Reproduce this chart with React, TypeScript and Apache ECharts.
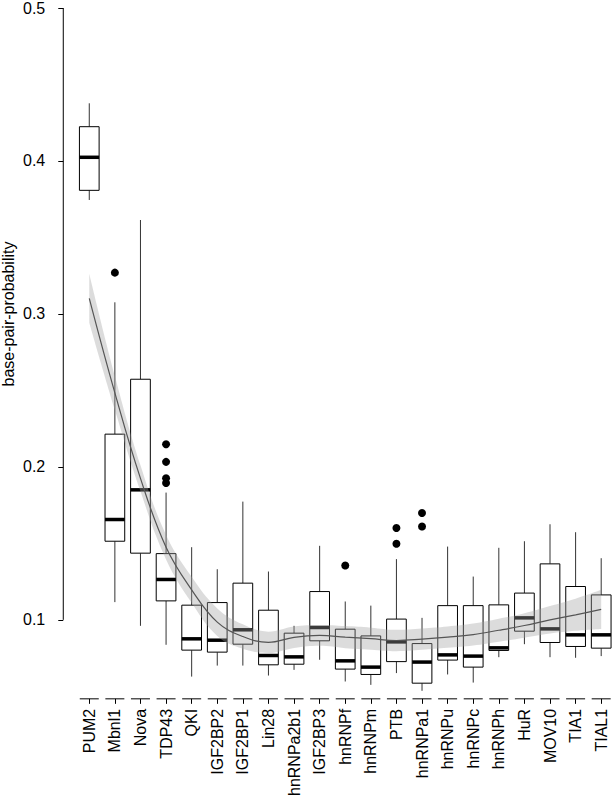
import React, { useEffect, useRef } from "react";
import * as echarts from "echarts";

const categories = ["PUM2", "Mbnl1", "Nova", "TDP43", "QKI", "IGF2BP2", "IGF2BP1", "Lin28", "hnRNPa2b1", "IGF2BP3", "hnRNPf", "hnRNPm", "PTB", "hnRNPa1", "hnRNPu", "hnRNPc", "hnRNPh", "HuR", "MOV10", "TIA1", "TIAL1"];

const whiskerHigh = [0.4377, 0.3076, 0.3614, 0.1832, 0.1475, 0.1331, 0.1773, 0.1316, 0.0961, 0.1484, 0.112, 0.1093, 0.1397, 0.1013, 0.1479, 0.1283, 0.1471, 0.1514, 0.1625, 0.1573, 0.1403];
const q3 = [0.4224, 0.2214, 0.2573, 0.1433, 0.1096, 0.1113, 0.124, 0.1063, 0.0913, 0.1185, 0.0939, 0.0895, 0.1005, 0.0845, 0.1093, 0.1093, 0.1098, 0.1175, 0.1366, 0.1218, 0.1163];
const median = [0.4024, 0.1656, 0.185, 0.1264, 0.0876, 0.0867, 0.0935, 0.0767, 0.0758, 0.095, 0.0732, 0.0691, 0.0856, 0.0724, 0.0771, 0.0763, 0.0817, 0.1013, 0.0941, 0.0902, 0.0902];
const q1 = [0.3808, 0.1514, 0.1436, 0.1124, 0.0802, 0.0789, 0.0841, 0.0706, 0.071, 0.0863, 0.0678, 0.0643, 0.0727, 0.0586, 0.0737, 0.0691, 0.08, 0.0926, 0.0852, 0.0826, 0.0815];
const whiskerLow = [0.3745, 0.1116, 0.0961, 0.0837, 0.0629, 0.0701, 0.0701, 0.0636, 0.0673, 0.0739, 0.0597, 0.0575, 0.0652, 0.0536, 0.0643, 0.059, 0.0756, 0.0841, 0.0756, 0.0752, 0.0763];

// outliers: [category, value]
const outliers = [
  ["Mbnl1", 0.327],
  ["TDP43", 0.2148],
  ["TDP43", 0.2033],
  ["TDP43", 0.1926],
  ["TDP43", 0.1895],
  ["hnRNPf", 0.1355],
  ["PTB", 0.16],
  ["PTB", 0.1497],
  ["hnRNPa1", 0.1699],
  ["hnRNPa1", 0.161],
];

const loessFit = [0.3102, 0.2484, 0.1925, 0.1475, 0.1196, 0.0985, 0.0891, 0.0853, 0.0886, 0.0898, 0.0887, 0.0877, 0.0865, 0.0874, 0.0887, 0.0904, 0.0932, 0.0963, 0.1, 0.1033, 0.1068];
const loessUpper = [0.3262, 0.2594, 0.201, 0.1555, 0.1281, 0.1075, 0.0971, 0.0923, 0.0956, 0.0966, 0.0959, 0.0949, 0.0935, 0.0944, 0.0957, 0.0976, 0.1007, 0.1043, 0.109, 0.1138, 0.1196];
const loessLower = [0.2942, 0.2374, 0.184, 0.1395, 0.1111, 0.0895, 0.0811, 0.0783, 0.0816, 0.083, 0.0815, 0.0805, 0.0795, 0.0804, 0.0817, 0.0832, 0.0857, 0.0883, 0.091, 0.0928, 0.094];

const yTicks = [0.1, 0.2, 0.3, 0.4, 0.5];
const yMin = 0.04837;
const yMax = 0.5;
const yTitle = "base-pair-probability";

const FONT = "'Liberation Sans', Arial, Helvetica, sans-serif";

export default function App() {
  const ref = useRef<HTMLDivElement>(null);

  useEffect(() => {
    if (!ref.current) return;
    const chart = echarts.init(ref.current, undefined, { renderer: "svg" });
    const axisOffset = 13.2;
    const boxW = 19.7;

    const boxData = categories.map((c, i) => [i, whiskerLow[i], q1[i], median[i], q3[i], whiskerHigh[i]]);
    const outData = outliers.map(([c, v]) => [categories.indexOf(c as string), v]);
    const bandDiff = loessUpper.map((u, i) => +(u - loessLower[i]).toFixed(5));

    const option: any = {
      animation: false,
      textStyle: { fontFamily: FONT },
      grid: { left: 76.475, right: -1.1, top: 8, bottom: 100, containLabel: false },
      xAxis: {
        type: "category",
        data: categories,
        boundaryGap: true,
        axisLine: { show: false },
        axisTick: { show: true, alignWithLabel: true, length: 5, lineStyle: { color: "#000", width: 1 } },
        axisLabel: { rotate: 90, fontSize: 16, color: "#000", margin: 10, fontFamily: FONT, interval: 0 },
        splitLine: { show: false },
      },
      yAxis: {
        type: "value",
        min: yMin,
        max: yMax,
        offset: axisOffset,
        axisLine: { show: false },
        axisTick: { show: true, customValues: yTicks, length: 5, lineStyle: { color: "#000", width: 1 } },
        axisLabel: { show: true, customValues: yTicks, fontSize: 16, color: "#000", margin: 18, fontFamily: FONT, formatter: (v: number) => v.toFixed(1) },
        splitLine: { show: false },
      },
      graphic: [
        {
          type: "text",
          x: 8,
          y: 314,
          rotation: Math.PI / 2,
          style: { text: yTitle, fontSize: 16, fill: "#000", font: `16px ${FONT}`, align: "center", verticalAlign: "middle" },
        },
      ],
      series: [
        {
          type: "custom",
          name: "yaxisline",
          clip: false,
          silent: true,
          data: [[0, yTicks[0]]],
          renderItem: (params: any, api: any) => {
            const x = params.coordSys.x - axisOffset;
            const y1 = api.coord([0, yTicks[0]])[1];
            const y2 = api.coord([0, yTicks[yTicks.length - 1]])[1];
            return { type: "line", shape: { x1: x, y1, x2: x, y2 }, style: { stroke: "#000", lineWidth: 1 } };
          },
          z: 1,
        },
        {
          type: "custom",
          name: "xsegments",
          clip: false,
          silent: true,
          data: categories.map((c, i) => [i, yMin]),
          renderItem: (params: any, api: any) => {
            const cx = api.coord([api.value(0), yMin])[0];
            const y = params.coordSys.y + params.coordSys.height;
            return { type: "line", shape: { x1: cx - 9.5, y1: y, x2: cx + 9.5, y2: y }, style: { stroke: "#000", lineWidth: 1 } };
          },
          z: 1,
        },
        {
          type: "custom",
          name: "boxes",
          clip: false,
          data: boxData,
          encode: { x: 0, y: [1, 2, 3, 4, 5] },
          renderItem: (params: any, api: any) => {
            const i = api.value(0);
            const lo = api.coord([i, api.value(1)]);
            const b1 = api.coord([i, api.value(2)]);
            const md = api.coord([i, api.value(3)]);
            const b3 = api.coord([i, api.value(4)]);
            const hi = api.coord([i, api.value(5)]);
            const x = lo[0];
            return {
              type: "group",
              children: [
                { type: "line", shape: { x1: x, y1: hi[1], x2: x, y2: b3[1] }, style: { stroke: "#333", lineWidth: 1 } },
                { type: "line", shape: { x1: x, y1: b1[1], x2: x, y2: lo[1] }, style: { stroke: "#333", lineWidth: 1 } },
                { type: "rect", shape: { x: x - boxW / 2, y: b3[1], width: boxW, height: b1[1] - b3[1] }, style: { fill: "#fff", stroke: "#000", lineWidth: 1 } },
                { type: "line", shape: { x1: x - boxW / 2, y1: md[1], x2: x + boxW / 2, y2: md[1] }, style: { stroke: "#000", lineWidth: 3.5 } },
              ],
            };
          },
          z: 2,
        },
        {
          type: "scatter",
          name: "outliers",
          data: outData,
          symbol: "circle",
          symbolSize: 8,
          itemStyle: { color: "#000", opacity: 1 },
          z: 3,
        },
        {
          type: "line",
          name: "ciLower",
          data: loessLower,
          stack: "ci",
          smooth: 0.4,
          symbol: "none",
          lineStyle: { opacity: 0 },
          z: 4,
        },
        {
          type: "line",
          name: "ciBand",
          data: bandDiff,
          stack: "ci",
          smooth: 0.4,
          symbol: "none",
          lineStyle: { opacity: 0 },
          areaStyle: { color: "rgba(160,160,160,0.37)", opacity: 1 },
          z: 4,
        },
        {
          type: "line",
          name: "loess",
          data: loessFit,
          smooth: 0.4,
          symbol: "none",
          lineStyle: { color: "#555", width: 1.2 },
          z: 5,
        },
      ],
    };
    chart.setOption(option);
    return () => chart.dispose();
  }, []);

  return <div ref={ref} style={{ position: "absolute", left: 0, top: 0, width: 614, height: 799 }} />;
}
